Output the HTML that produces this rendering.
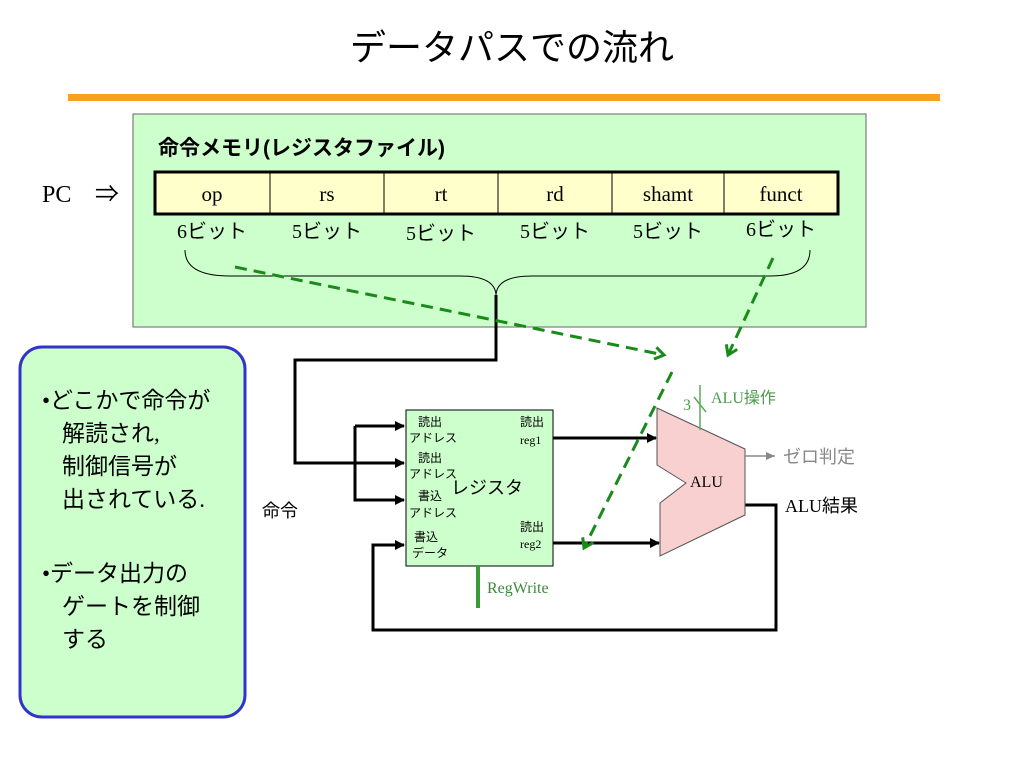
<!DOCTYPE html>
<html><head><meta charset="utf-8"><style>
body{margin:0;background:#fff}
svg{display:block}
text{font-family:"Liberation Serif","Noto Sans CJK JP",serif}
.j{font-family:"Liberation Sans","Noto Sans CJK JP",sans-serif}
</style></head><body>
<svg width="1024" height="768" viewBox="0 0 1024 768" xmlns="http://www.w3.org/2000/svg">
<defs>
<marker id="a" markerWidth="10" markerHeight="10" refX="9" refY="5" orient="auto" markerUnits="userSpaceOnUse"><path d="M0,0 L10,5 L0,10 z" fill="#000"/></marker>
<marker id="g" markerWidth="14" markerHeight="14" refX="11" refY="7" orient="auto" markerUnits="userSpaceOnUse"><path d="M2,1 L11,7 L2,13" fill="none" stroke="#1a8a1a" stroke-width="3"/></marker>
<marker id="gr" markerWidth="10" markerHeight="10" refX="9" refY="5" orient="auto" markerUnits="userSpaceOnUse"><path d="M0,1 L9,5 L0,9 z" fill="#888"/></marker>
</defs>
<text x="512" y="60" text-anchor="middle" class="j" font-size="36">データパスでの流れ</text>
<rect x="68" y="94" width="872" height="7" fill="#f7a21b"/>
<rect x="133" y="114" width="733" height="213" fill="#ccffcc" stroke="#666" stroke-width="1"/>
<text x="158" y="155" class="j" font-size="21" font-weight="bold">命令メモリ(レジスタファイル)</text>
<text x="42" y="202" font-size="24">PC</text><text x="95" y="202" font-size="24">⇒</text>
<rect x="155" y="172" width="683" height="42" fill="#ffffcc" stroke="#000" stroke-width="3"/>
<g stroke="#000" stroke-width="1"><line x1="270" y1="172" x2="270" y2="214"/><line x1="384" y1="172" x2="384" y2="214"/><line x1="498" y1="172" x2="498" y2="214"/><line x1="612" y1="172" x2="612" y2="214"/><line x1="724" y1="172" x2="724" y2="214"/></g>
<g font-size="21" text-anchor="middle"><text x="212" y="201">op</text><text x="327" y="201">rs</text><text x="441" y="201">rt</text><text x="555" y="201">rd</text><text x="668" y="201">shamt</text><text x="781" y="201">funct</text></g>
<g font-size="20" text-anchor="middle"><text x="212" y="238">6ビット</text><text x="327" y="238">5ビット</text><text x="441" y="240">5ビット</text><text x="555" y="238">5ビット</text><text x="668" y="238">5ビット</text><text x="781" y="236">6ビット</text></g>
<path d="M185,250 Q185,276 230,276 L460,276 Q495,276 496,295 Q497,276 532,276 L770,276 Q810,276 810,250" fill="none" stroke="#000" stroke-width="1"/>
<rect x="20" y="347" width="225" height="370" rx="22" fill="#ccffcc" stroke="#3333cc" stroke-width="3"/>
<g class="j" font-size="23"><text x="42" y="408">•どこかで命令が</text><text x="62" y="441">解読され,</text><text x="62" y="474">制御信号が</text><text x="62" y="507">出されている.</text><text x="42" y="581">•データ出力の</text><text x="62" y="614">ゲートを制御</text><text x="62" y="647">する</text></g>
<g fill="none" stroke="#000" stroke-width="3">
<path d="M496,295 V360 H295 V463 H404" marker-end="url(#a)"/>
<path d="M355,426 H404" marker-end="url(#a)"/>
<path d="M355,426 V500 H404" marker-end="url(#a)"/>
<path d="M553,438 H656" marker-end="url(#a)"/>
<path d="M553,543 H659" marker-end="url(#a)"/>
<path d="M745,505 H776 V630 H373 V545 H404" marker-end="url(#a)"/>
</g>
<text x="262" y="517" class="j" font-size="18">命令</text>
<rect x="406" y="410" width="147" height="156" fill="#ccffcc" stroke="#000" stroke-width="1"/>
<g class="j" font-size="12"><text x="418" y="426">読出</text><text x="409" y="442">アドレス</text><text x="418" y="462">読出</text><text x="409" y="478">アドレス</text><text x="418" y="500">書込</text><text x="409" y="517">アドレス</text><text x="414" y="541">書込</text><text x="412" y="557">データ</text><text x="520" y="426">読出</text><text x="520" y="531">読出</text></g>
<text x="520" y="444" font-size="12">reg1</text><text x="520" y="548" font-size="12">reg2</text>
<text x="451" y="494" class="j" font-size="18">レジスタ</text>
<rect x="476" y="566" width="4" height="42" fill="#3a9a3a"/>
<text x="487" y="593" font-size="16" fill="#3a8a3a">RegWrite</text>
<polygon points="657,408 745,449 745,515 660,556 660,503 686,483 657,465" fill="#f9d0d0" stroke="#555" stroke-width="1"/>
<text x="690" y="487" font-size="16">ALU</text>
<line x1="700" y1="385" x2="700" y2="430" stroke="#5aaa5a" stroke-width="1.5"/>
<line x1="694" y1="397" x2="706" y2="412" stroke="#5aaa5a" stroke-width="1.5"/>
<text x="683" y="410" font-size="16" fill="#4a9a4a">3</text>
<text x="711" y="403" font-size="16" fill="#4a9a4a">ALU操作</text>
<line x1="745" y1="456" x2="775" y2="456" stroke="#888" stroke-width="1.5" marker-end="url(#gr)"/>
<text x="783" y="463" class="j" font-size="18" fill="#888">ゼロ判定</text>
<text x="785" y="512" font-size="18">ALU結果</text>
<g fill="none" stroke="#1a8a1a" stroke-width="3" stroke-dasharray="12,7">
<path d="M235,267 L664,355" marker-end="url(#g)"/>
<path d="M773,258 L728,355" marker-end="url(#g)"/>
<path d="M672,372 L584,548" marker-end="url(#g)"/>
</g>
</svg>
</body></html>
